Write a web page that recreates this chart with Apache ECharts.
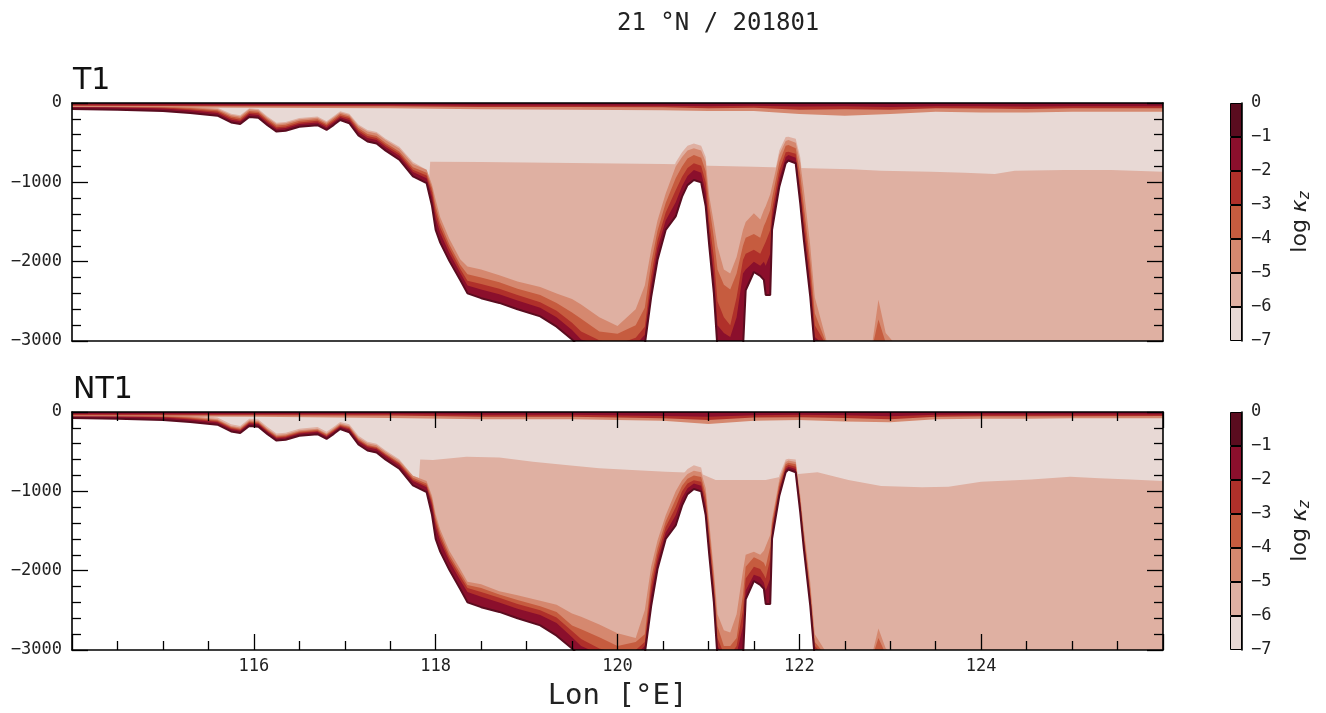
<!DOCTYPE html>
<html>
<head>
<meta charset="utf-8">
<script src="https://cdn.jsdelivr.net/npm/echarts@6/dist/echarts.min.js"></script>
<style>
  html, body { margin: 0; padding: 0; background: #fff; }
  #chart { width: 1326px; height: 713px; }
</style>
</head>
<body>
<div id="chart"></div>
<script>
// longitude grid shared by bathymetry and near-bottom kz bands
const lon = [114.0, 114.5, 115.0, 115.3, 115.6, 115.75, 115.85, 115.95, 116.05, 116.15,
  116.25, 116.35, 116.5, 116.7, 116.8, 116.88, 116.95, 117.05, 117.15, 117.25,
  117.35, 117.45, 117.6, 117.75, 117.9, 117.96, 118.0, 118.05, 118.15, 118.27,
  118.35, 118.5, 118.7, 118.9, 119.15, 119.33, 119.5, 119.6, 119.8, 120.0,
  120.2, 120.3, 120.37, 120.44, 120.53, 120.64, 120.71, 120.77, 120.84, 120.92,
  120.97, 121.01, 121.06, 121.1, 121.17, 121.24, 121.31, 121.38, 121.41, 121.5,
  121.57, 121.61, 121.63, 121.68, 121.7, 121.78, 121.85, 121.88, 121.96, 122.01,
  122.05, 122.12, 122.17, 122.3, 122.6, 122.8, 122.87, 122.95, 123.1, 123.5,
  124.0, 125.0, 126.0];

// sea floor depth (m)
const bottom = [-75, -85, -100, -125, -160, -245, -265, -175, -185, -280,
  -360, -350, -300, -280, -340, -275, -215, -255, -410, -485,
  -510, -600, -715, -925, -1010, -1300, -1600, -1760, -1990, -2230,
  -2400, -2460, -2520, -2600, -2690, -2820, -2980, -3100, -3100, -3100,
  -3100, -3050, -2450, -1980, -1600, -1430, -1180, -1035, -970, -1000,
  -1300, -1810, -2400, -3100, -3100, -3100, -3100, -3100, -2360, -2130,
  -2180, -2230, -2420, -2420, -1600, -1055, -760, -725, -760, -1265,
  -1730, -2440, -3100, -3100, -3100, -3100, -3100, -3100, -3100, -3100,
  -3100, -3100, -3100];

// T1: upper edge of near-bottom zones where log kz > -2, -3, -4, -5, -6
const t1Above2 = [-45, -55, -68, -92, -125, -210, -230, -140, -150, -245,
  -325, -315, -265, -245, -305, -240, -180, -215, -365, -440,
  -465, -555, -665, -870, -950, -1180, -1450, -1640, -1890, -2140,
  -2300, -2350, -2410, -2490, -2580, -2700, -2860, -2980, -3050, -3070,
  -3050, -2920, -2300, -1830, -1480, -1250, -1050, -920, -845, -880,
  -1120, -1650, -2150, -2800, -2900, -2950, -2700, -2150, -2100, -2000,
  -2050, -2000, -2050, -1900, -1450, -950, -680, -656, -690, -1150,
  -1600, -2300, -2950, -3080, -3100, -3100, -3100, -3100, -3100, -3100,
  -3100, -3100, -3100];
const t1Above3 = [-32, -42, -55, -78, -108, -190, -210, -120, -130, -225,
  -305, -295, -245, -225, -285, -220, -160, -190, -340, -415,
  -440, -530, -635, -840, -915, -1120, -1370, -1570, -1830, -2090,
  -2240, -2280, -2340, -2420, -2510, -2620, -2770, -2880, -2990, -3040,
  -2960, -2820, -2180, -1730, -1380, -1100, -930, -820, -760, -790,
  -1000, -1500, -1950, -2500, -2700, -2800, -2450, -1980, -1900, -1850,
  -1900, -1800, -1750, -1600, -1350, -850, -620, -613, -640, -1050,
  -1450, -2150, -2800, -3060, -3100, -3100, -3100, -3100, -3100, -3100,
  -3100, -3100, -3100];
const t1Above4 = [-20, -30, -42, -64, -92, -170, -190, -100, -110, -205,
  -285, -275, -225, -205, -265, -200, -140, -170, -315, -390,
  -415, -505, -610, -810, -880, -1070, -1300, -1510, -1780, -2040,
  -2160, -2200, -2260, -2340, -2420, -2520, -2640, -2720, -2880, -2910,
  -2800, -2580, -2020, -1610, -1260, -950, -800, -700, -655, -690,
  -860, -1300, -1700, -2100, -2290, -2350, -2150, -1800, -1700, -1650,
  -1700, -1550, -1500, -1350, -1200, -750, -540, -530, -570, -900,
  -1300, -2000, -2650, -3040, -3100, -3100, -2730, -3020, -3100, -3100,
  -3100, -3100, -3100];
const t1Above5 = [-8, -18, -30, -50, -75, -150, -170, -80, -90, -185,
  -265, -255, -205, -185, -245, -180, -120, -150, -290, -360,
  -385, -470, -575, -770, -840, -1030, -1220, -1440, -1710, -1970,
  -2060, -2100, -2170, -2250, -2320, -2400, -2470, -2540, -2700, -2810,
  -2600, -2300, -1850, -1480, -1140, -800, -680, -600, -570, -600,
  -740, -1180, -1517, -1810, -2100, -2150, -1940, -1600, -1500, -1390,
  -1470, -1350, -1300, -1150, -1050, -650, -480, -467, -500, -750,
  -1100, -1800, -2450, -3000, -3100, -3050, -2480, -2900, -3100, -3100,
  -3100, -3100, -3100];
const t1Above6 = [0, -8, -20, -38, -60, -135, -155, -65, -75, -170,
  -250, -240, -190, -170, -230, -165, -105, -135, -270, -340,
  -365, -450, -550, -745, -840, -1030, -1220, -1440, -1710, -1970,
  -2060, -2100, -2170, -2250, -2320, -2400, -2470, -2540, -2700, -2810,
  -2600, -2300, -1850, -1480, -1100, -750, -620, -540, -510, -540,
  -680, -1180, -1517, -1810, -2100, -2150, -1940, -1600, -1500, -1390,
  -1470, -1350, -1300, -1150, -1050, -600, -430, -425, -450, -680,
  -1100, -1800, -2450, -3000, -3100, -3050, -2480, -2900, -3100, -3100,
  -3100, -3100, -3100];

// NT1: same zones
const nt1Above2 = [-45, -55, -70, -95, -130, -215, -235, -145, -155, -250,
  -330, -320, -270, -250, -310, -245, -185, -220, -370, -445,
  -470, -555, -670, -870, -950, -1180, -1450, -1630, -1880, -2120,
  -2270, -2330, -2400, -2480, -2560, -2660, -2840, -2950, -3050, -3080,
  -3060, -2950, -2300, -1880, -1520, -1300, -1080, -960, -900, -930,
  -1200, -1700, -2300, -2950, -3080, -3090, -3050, -2700, -2250, -2050,
  -2080, -2150, -2250, -2100, -1520, -1000, -720, -690, -720, -1200,
  -1660, -2360, -3000, -3100, -3100, -3100, -3100, -3100, -3100, -3100,
  -3100, -3100, -3100];
const nt1Above3 = [-33, -43, -58, -83, -118, -203, -223, -133, -143, -238,
  -318, -308, -258, -238, -298, -233, -173, -205, -355, -430,
  -455, -540, -650, -850, -925, -1140, -1390, -1580, -1840, -2070,
  -2220, -2270, -2340, -2420, -2500, -2590, -2760, -2860, -2980, -3050,
  -3000, -2900, -2200, -1800, -1450, -1200, -1000, -900, -860, -880,
  -1120, -1600, -2200, -2850, -3050, -3060, -2950, -2500, -2100, -1950,
  -1980, -2050, -2100, -1850, -1450, -950, -690, -665, -690, -1150,
  -1600, -2300, -2950, -3100, -3100, -3100, -3100, -3100, -3100, -3100,
  -3100, -3100, -3100];
const nt1Above4 = [-20, -30, -45, -70, -105, -190, -210, -120, -130, -225,
  -305, -295, -245, -225, -285, -220, -160, -190, -340, -415,
  -440, -525, -635, -830, -900, -1100, -1340, -1530, -1800, -2030,
  -2180, -2220, -2300, -2370, -2450, -2520, -2690, -2740, -2840, -2950,
  -2900, -2800, -2100, -1720, -1380, -1100, -930, -840, -800, -820,
  -1040, -1500, -2100, -2700, -2950, -2950, -2850, -2300, -1950, -1830,
  -1870, -1900, -1950, -1700, -1400, -900, -660, -640, -660, -1100,
  -1540, -2230, -2900, -3080, -3100, -3100, -2850, -3050, -3100, -3100,
  -3100, -3100, -3100];
const nt1Above5 = [-5, -15, -30, -55, -90, -175, -195, -105, -115, -210,
  -290, -280, -230, -210, -270, -205, -145, -175, -320, -395,
  -420, -505, -615, -805, -870, -1060, -1290, -1480, -1750, -1980,
  -2140, -2170, -2260, -2310, -2380, -2430, -2540, -2580, -2680, -2790,
  -2850, -2500, -1950, -1620, -1300, -1000, -860, -780, -740, -760,
  -960, -1400, -2000, -2550, -2750, -2780, -2550, -2000, -1800, -1760,
  -1800, -1750, -1750, -1550, -1350, -850, -630, -610, -630, -1050,
  -1480, -2150, -2800, -3040, -3100, -3060, -2730, -2980, -3100, -3100,
  -3100, -3100, -3100];
const nt1Above6 = [0, 0, -10, -35, -70, -155, -175, -85, -95, -190,
  -270, -260, -210, -190, -250, -185, -125, -155, -300, -375,
  -400, -485, -595, -805, -870, -1060, -1290, -1480, -1750, -1980,
  -2140, -2170, -2260, -2310, -2380, -2430, -2540, -2580, -2680, -2790,
  -2850, -2500, -1950, -1620, -1300, -1000, -800, -720, -670, -700,
  -960, -1400, -2000, -2550, -2750, -2780, -2550, -2000, -1800, -1760,
  -1800, -1750, -1750, -1550, -1350, -800, -600, -590, -600, -1050,
  -1480, -2150, -2800, -3040, -3100, -3060, -2730, -2980, -3100, -3100,
  -3100, -3100, -3100];

// interior boundary between log kz -7..-6 (above) and -6..-5 (below)
const mldLonT1 = [114, 117.92, 117.94, 118.5, 119.5, 120.5, 120.8, 121.0, 121.5, 121.9,
  122.1, 122.57, 122.9, 123.45, 123.82, 124.15, 124.37, 124.92, 125.43, 126];
const mldT1 = [-1100, -1100, -740, -745, -755, -770, -775, -790, -805, -815,
  -824, -836, -853, -866, -878, -895, -853, -845, -845, -866];
const mldLonNT1 = [114, 117.8, 117.83, 117.97, 118.34, 118.7, 119.07, 119.43, 119.8, 120.16,
  120.53, 120.9, 121.08, 121.63, 121.9, 122.2, 122.54, 122.9, 123.35, 123.64,
  124.0, 124.55, 124.98, 125.3, 125.64, 126];
const mldNT1 = [-1100, -1100, -600, -605, -563, -572, -626, -668, -710, -731,
  -752, -770, -857, -857, -790, -760, -857, -933, -950, -942,
  -880, -850, -817, -835, -850, -870];

// surface mixed layer (log kz > -2, > -4, > -6)
const surfLon = [114, 116, 117.5, 118.5, 119.5, 120.5, 121.0, 121.5, 122.0, 122.5,
  123.0, 123.5, 124.0, 124.5, 125.0, 126];
const t1Surf2 = [-20, -25, -25, -30, -30, -35, -40, -35, -45, -40, -50, -40, -40, -45, -40, -40];
const t1Surf4 = [-35, -40, -40, -50, -50, -55, -65, -60, -85, -80, -85, -65, -70, -75, -65, -65];
const t1Surf6 = [-50, -60, -65, -80, -85, -90, -100, -100, -140, -160, -140, -110, -120, -120, -110, -110];
const nt1Surf2 = [-25, -25, -25, -35, -35, -50, -60, -40, -35, -40, -55, -35, -30, -30, -30, -30];
const nt1Surf4 = [-40, -40, -45, -60, -60, -80, -100, -70, -65, -75, -90, -60, -55, -55, -55, -50];
const nt1Surf6 = [-55, -60, -75, -90, -90, -110, -150, -110, -100, -120, -130, -90, -85, -85, -80, -80];

// colour levels, from log kz 0..-1 down to -6..-7
const levelColors = ['#5a0c1f', '#8b0f2c', '#b0302a', '#c65c3f', '#d5886f', '#dfb0a2', '#e8d9d5'];

const mono = 'DejaVu Sans Mono';
const minus = v => (v < 0 ? '\u2212' + (-v) : String(v));

function area(xs, ys, color, origin, idx, extra) {
  return Object.assign({
    type: 'line',
    xAxisIndex: idx,
    yAxisIndex: idx,
    data: xs.map((x, i) => [x, ys[i]]),
    symbol: 'none',
    silent: true,
    animation: false,
    lineStyle: {width: 0, opacity: 0},
    areaStyle: {color: color, opacity: 1, origin: origin}
  }, extra || {});
}

function panelSeries(idx, mldLon, mld, above, surf) {
  return [
    area(mldLon, mld, levelColors[5], 'start', idx),
    area(lon, above[4], levelColors[5], 'start', idx),
    area(lon, above[3], levelColors[4], 'start', idx),
    area(lon, above[2], levelColors[3], 'start', idx),
    area(lon, above[1], levelColors[2], 'start', idx),
    area(lon, above[0], levelColors[1], 'start', idx),
    area(surfLon, surf[2], levelColors[4], 'end', idx),
    area(surfLon, surf[1], levelColors[2], 'end', idx),
    area(surfLon, surf[0], levelColors[1], 'end', idx),
    area(lon, bottom, '#ffffff', 'start', idx, {lineStyle: {color: levelColors[0], width: 2}})
  ];
}

function colorbarSeries(idx) {
  return levelColors.map(c => ({
    type: 'bar',
    xAxisIndex: idx,
    yAxisIndex: idx,
    stack: 'cb' + idx,
    data: [-1],
    barWidth: '100%',
    silent: true,
    animation: false,
    itemStyle: {color: c, borderColor: '#000', borderWidth: 1}
  }));
}

const tickStyle = {lineStyle: {color: '#000', width: 1.3}};
const plotGrids = [
  {left: 72, right: 163, top: 103, height: 238},
  {left: 72, right: 163, top: 412, height: 238}
];

const xAxes = [];
const yAxes = [];
[0, 1].forEach(g => {
  const showX = g === 1;
  ['bottom', 'top'].forEach(pos => {
    xAxes.push({
      type: 'value', gridIndex: g, position: pos, min: 114, max: 126, interval: 2, z: 10,
      axisLine: {show: true, onZero: false, lineStyle: {color: '#000', width: 1.6}},
      axisTick: Object.assign({show: showX, inside: true, length: 16}, tickStyle),
      minorTick: Object.assign({show: showX, splitNumber: 4, length: 9}, tickStyle),
      splitLine: {show: false},
      axisLabel: {
        show: showX && pos === 'bottom', margin: 8, fontFamily: mono, fontSize: 17, color: '#222',
        formatter: v => (v === 114 || v === 126 ? '' : String(v))
      },
      name: showX && pos === 'bottom' ? 'Lon [°E]' : '',
      nameLocation: 'middle', nameGap: 32,
      nameTextStyle: {fontFamily: mono, fontSize: 29, color: '#222'}
    });
  });
  ['left', 'right'].forEach(pos => {
    yAxes.push({
      type: 'value', gridIndex: g, position: pos, min: -3000, max: 0, interval: 1000, z: 10,
      axisLine: {show: true, onZero: false, lineStyle: {color: '#000', width: 1.6}},
      axisTick: Object.assign({show: true, inside: true, length: 16}, tickStyle),
      minorTick: Object.assign({show: true, splitNumber: 5, length: 9}, tickStyle),
      splitLine: {show: false},
      axisLabel: {show: pos === 'left', margin: 10, fontFamily: mono, fontSize: 17, color: '#222', formatter: minus}
    });
  });
});
// reorder so that axis index 0/1 are the panels' primary axes
const xOrdered = [xAxes[0], xAxes[2], xAxes[1], xAxes[3]];
const yOrdered = [yAxes[0], yAxes[2], yAxes[1], yAxes[3]];

const cbGrids = [
  {left: 1230, width: 12, top: 103, height: 238},
  {left: 1230, width: 12, top: 412, height: 238}
];
[0, 1].forEach(k => {
  xOrdered.push({type: 'category', gridIndex: 2 + k, data: [''], show: false});
  yOrdered.push({
    type: 'value', gridIndex: 2 + k, position: 'right', min: -7, max: 0, interval: 1, z: 10,
    axisLine: {show: true, lineStyle: {color: '#000', width: 1.6}},
    axisTick: {show: false},
    splitLine: {show: false},
    axisLabel: {margin: 9, fontFamily: mono, fontSize: 17, color: '#222', formatter: minus},
    name: '{a|log }{k|κ}{z|z}',
    nameLocation: 'middle', nameRotate: 90, nameGap: 46,
    nameTextStyle: {
      rich: {
        a: {fontFamily: 'DejaVu Sans', fontSize: 22, color: '#222'},
        k: {fontFamily: 'DejaVu Sans', fontSize: 22, fontStyle: 'italic', color: '#222'},
        z: {fontFamily: 'DejaVu Sans', fontSize: 15, fontStyle: 'italic', color: '#222', padding: [10, 0, 0, 0]}
      }
    }
  });
});

const chart = echarts.init(document.getElementById('chart'));
chart.setOption({
  backgroundColor: '#ffffff',
  animation: false,
  title: [
    {text: '21 °N / 201801', left: 617, top: 12, padding: 0,
      textStyle: {fontFamily: mono, fontSize: 24, fontWeight: 'normal', color: '#222'}},
    {text: 'T1', left: 73, top: 66, padding: 0,
      textStyle: {fontFamily: 'DejaVu Sans', fontSize: 30, fontWeight: 'normal', color: '#111'}},
    {text: 'NT1', left: 73, top: 375, padding: 0,
      textStyle: {fontFamily: 'DejaVu Sans', fontSize: 30, fontWeight: 'normal', color: '#111'}}
  ],
  grid: plotGrids.map(g => Object.assign({show: true, backgroundColor: levelColors[6], borderWidth: 0}, g))
    .concat(cbGrids.map(g => Object.assign({show: false}, g))),
  xAxis: xOrdered,
  yAxis: yOrdered,
  series: [].concat(
    panelSeries(0, mldLonT1, mldT1, [t1Above2, t1Above3, t1Above4, t1Above5, t1Above6], [t1Surf2, t1Surf4, t1Surf6]),
    panelSeries(1, mldLonNT1, mldNT1, [nt1Above2, nt1Above3, nt1Above4, nt1Above5, nt1Above6], [nt1Surf2, nt1Surf4, nt1Surf6]),
    colorbarSeries(4),
    colorbarSeries(5)
  )
});
</script>
</body>
</html>
